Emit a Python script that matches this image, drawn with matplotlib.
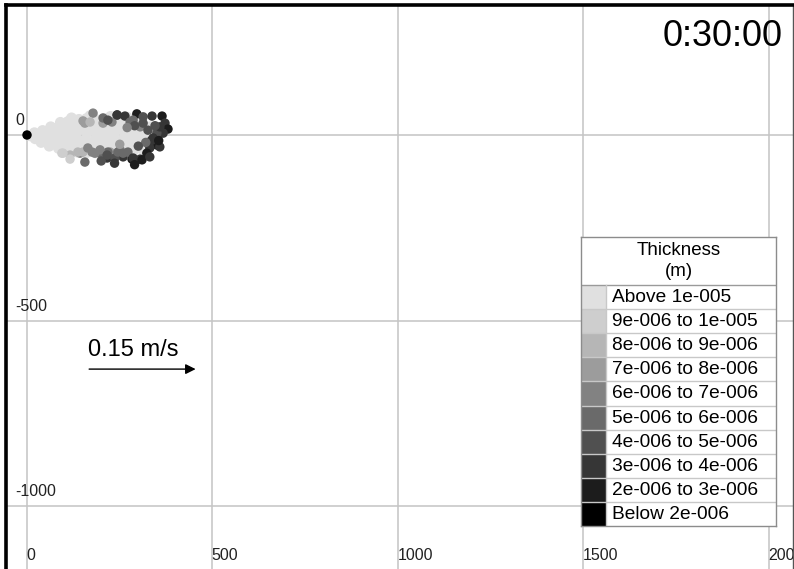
import matplotlib
matplotlib.use("Agg")
import matplotlib.pyplot as plt
from matplotlib.patches import Rectangle

plt.rcParams['font.family'] = ['Liberation Sans', 'DejaVu Sans']

# ---------------- data ----------------
x_ticks = [0, 500, 1000, 1500, 2000]
x_tick_labels = ["0", "500", "1000", "1500", "2000"]
y_ticks = [0, -500, -1000]
y_tick_labels = ["0", "-500", "-1000"]

legend_title = "Thickness\n(m)"
class_labels = ["Above 1e-005", "9e-006 to 1e-005", "8e-006 to 9e-006",
                "7e-006 to 8e-006", "6e-006 to 7e-006", "5e-006 to 6e-006",
                "4e-006 to 5e-006", "3e-006 to 4e-006", "2e-006 to 3e-006",
                "Below 2e-006"]
class_colors = ["#e0e0e0", "#cecece", "#b6b6b6", "#9c9c9c", "#828282",
                "#6a6a6a", "#505050", "#363636", "#1c1c1c", "#000000"]

# thick particles (class 0, "Above 1e-005")
light_x = [8, 20, 22, 38, 40, 42, 60, 62, 58, 64,
           85, 88, 82, 86, 90, 110, 112, 108, 114, 110,
           135, 138, 132, 136, 134, 140, 160, 165, 158, 162, 166, 160,
           185, 190, 184, 188, 186, 182, 210, 214, 208, 212, 210, 216,
           235, 238, 232, 236, 240, 234, 260, 262, 258, 264, 260, 256,
           285, 288, 282, 286, 290, 284, 310, 312, 306, 314, 308,
           330, 334, 328, 332,
           50, 72, 74, 98, 96, 100, 122, 124, 120, 148, 150, 146, 172, 176,
           174, 198, 200, 196, 222, 224, 248, 250, 272, 274, 298, 300,
           120, 170, 225, 270]
light_y = [-2, 6, -10, -20, -4, 12, -30, -12, 4, 22,
           -36, -16, 2, 20, 34, -42, -22, -4, 16, 36,
           -46, -26, -8, 10, 28, 42, -48, -30, -12, 6, 24, 44,
           -48, -30, -12, 6, 24, 44, -48, -30, -12, 6, 24, 44,
           -48, -30, -12, 6, 24, 44, -48, -30, -12, 6, 24, 42,
           -46, -28, -10, 8, 26, 42, -38, -20, -2, 16, 34,
           -26, -10, 6, 22,
           -12, -22, 14, -28, 8, 30, -32, 4, 26, -36, -18, 18, -38, 16,
           36, -20, 16, 36, -20, 16, -20, 16, -20, 16, -20, 16,
           46, 52, 50, 48]

# thinner particles (class index into class_colors)
dark_x = [178, 243, 264, 296, 313, 337, 364, 372, 380, 367,
          350, 340, 350, 331, 323, 305, 283, 259, 232, 216,
          197, 156, 143, 116, 97, 205, 156, 278, 305, 326,
          358, 272, 251, 224, 175, 286, 229, 210, 313, 259,
          286, 310, 331, 358, 237, 218, 183, 151, 170, 205,
          218, 243, 116, 137, 94, 151, 164, 197, 216, 245,
          345, 335, 355, 320, 300, 290, 270, 250, 236, 290, 200,
          0]
dark_y = [59, 54, 51, 57, 49, 51, 51, 32, 16, 5,
          5, -8, -27, -35, -49, -65, -65, -59, -54, -62,
          -49, -73, -49, -54, -49, 32, 32, 35, 22, 13,
          22, -46, -40, -46, -46, 40, 35, 40, 32, -49,
          -62, -67, -59, -32, -62, -46, -49, 38, 35, 46,
          40, 54, -65, -46, -49, -46, -35, -40, -54, -46,
          25, -15, -15, -20, -30, 25, 20, -25, -76, -80, -70,
          0]
dark_class = [4, 7, 7, 8, 6, 7, 8, 7, 8, 7,
              6, 7, 8, 7, 8, 7, 8, 7, 6, 7,
              5, 5, 4, 2, 1, 3, 3, 5, 4, 6,
              7, 5, 4, 3, 4, 5, 4, 3, 6, 5,
              7, 8, 7, 7, 6, 5, 4, 3, 2, 5,
              6, 7, 1, 2, 1, 2, 4, 4, 6, 5,
              6, 7, 8, 5, 6, 6, 4, 3, 7, 8, 6,
              9]

arrow_label = "0.15 m/s"
arrow_start = (160, -631)
arrow_end = (462, -631)
time_label = "0:30:00"

# ---------------- figure ----------------
W, H = 794, 569
fig = plt.figure(figsize=(W / 100, H / 100), dpi=100)
fig.patch.set_facecolor("white")

ax = fig.add_axes([6 / W, 0, (793 - 6) / W, (569 - 5) / H])
upp = 500 / 185.5  # data units per pixel
ax.set_xlim(-21 * upp, (793 - 27) * upp)
ax.set_ylim(-(569 - 135) * upp, 130 * upp)

ax.spines["bottom"].set_visible(False)
ax.spines["left"].set_linewidth(2.6)
ax.spines["top"].set_linewidth(2.6)
ax.spines["right"].set_linewidth(1.0)
ax.spines["right"].set_color("#555555")
ax.set_xticks([])
ax.set_yticks([])

for xv in x_ticks:
    ax.axvline(xv, color="#c4c4c4", lw=1.1, zorder=0)
for yv in y_ticks:
    ax.axhline(yv, color="#c4c4c4", lw=1.1, zorder=0)

for yv, lab in zip(y_ticks, y_tick_labels):
    ax.text(-32, yv + 14 * upp, lab, ha="left", va="center", fontsize=11.5, color="#222222")
for xv, lab in zip(x_ticks, x_tick_labels):
    ax.text(xv - 2, -(555 - 135) * upp, lab, ha="left", va="center", fontsize=11.5,
            color="#222222", clip_on=True)

ax.scatter(light_x, light_y, s=62, c=class_colors[0], edgecolors="none", zorder=2)
ax.scatter(dark_x, dark_y, s=46, c=[class_colors[k] for k in dark_class],
           edgecolors="none", zorder=3)

ax.annotate("", xy=arrow_end, xytext=arrow_start,
            arrowprops=dict(arrowstyle="-|>", color="black", lw=1.0, mutation_scale=15))
ax.text(arrow_start[0] + 4, arrow_start[1] + 19 * upp, arrow_label, ha="left", va="center",
        fontsize=17, color="black")

fig.text(783 / W, 1 - 37 / H, time_label, ha="right", va="center", fontsize=26)

# ---------------- legend table ----------------
lx0, lx1, ly0, ly1 = 581, 776, 237, 526
lax = fig.add_axes([lx0 / W, 1 - ly1 / H, (lx1 - lx0) / W, (ly1 - ly0) / H])
lw_, lh_ = lx1 - lx0, ly1 - ly0
lax.set_xlim(0, lw_)
lax.set_ylim(lh_, 0)
lax.set_xticks([])
lax.set_yticks([])
for s in lax.spines.values():
    s.set_color("#8c8c8c")
    s.set_linewidth(1.0)
lax.set_facecolor("white")
title_h = 48
row_h = (lh_ - title_h) / len(class_labels)
lax.text(lw_ / 2, 24, legend_title, ha="center", va="center", fontsize=13.5,
         linespacing=1.3)
lax.axhline(title_h, color="#9a9a9a", lw=1.0)
for i, (lab, col) in enumerate(zip(class_labels, class_colors)):
    y0 = title_h + i * row_h
    lax.add_patch(Rectangle((0, y0), 25, row_h, facecolor=col, edgecolor="none"))
    if i > 0:
        lax.plot([0, lw_], [y0, y0], color="#c8c8c8", lw=1.0)
    lax.text(31, y0 + row_h / 2 + 0.5, lab, ha="left", va="center", fontsize=13.8)
lax.plot([25, 25], [title_h, lh_], color="#c8c8c8", lw=1.0)

fig.savefig("out.png", dpi=100)
